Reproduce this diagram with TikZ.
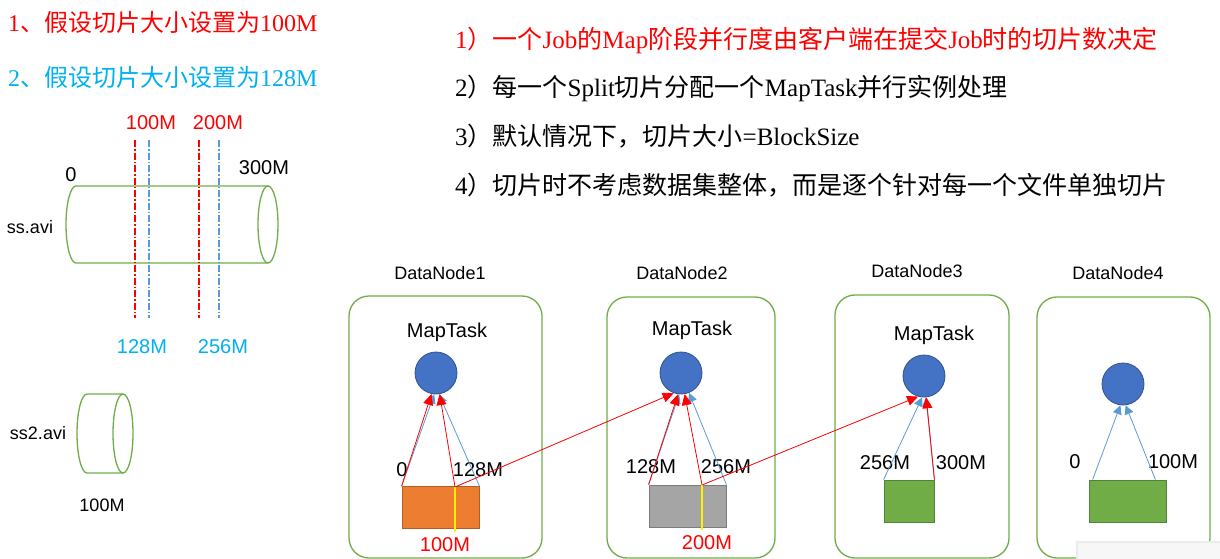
\documentclass[tikz,border=0pt]{standalone}
\usepackage{fontspec}
\setmainfont{Liberation Serif}
\setsansfont{Liberation Sans}
\newfontfamily\cjk{Noto Sans CJK SC}
\usetikzlibrary{arrows.meta}
\definecolor{hred}{HTML}{FF0000}
\definecolor{hcyan}{HTML}{00B0F0}
\definecolor{hblue}{HTML}{5B9BD5}
\definecolor{dngreen}{HTML}{70AD47}
\definecolor{mtblue}{HTML}{4472C4}
\definecolor{mtedge}{HTML}{2F528F}
\definecolor{blkorange}{HTML}{ED7D31}
\definecolor{blkgray}{HTML}{A5A5A5}
\definecolor{blkgreen}{HTML}{70AD47}
\tikzset{
  dnbox/.style={draw=dngreen, line width=1.3pt, rounded corners=20pt, inner sep=0pt},
  maptask/.style={circle, draw=mtedge, fill=mtblue, minimum size=42pt, inner sep=0pt,
                  line width=0.8pt},
  blk/.style={draw, minimum height=42pt, inner sep=0pt, line width=0.8pt},
  lbl/.style={font=\sffamily\fontsize{20}{22}\selectfont, inner sep=0pt},
  dnlbl/.style={font=\sffamily\fontsize{18}{20}\selectfont, inner sep=0pt},
  ruletext/.style={anchor=west, font=\fontsize{25}{28}\selectfont, inner sep=0pt},
  splitcut/.style={line width=1.1pt, dash pattern=on 7pt off 2pt on 1.5pt off 2pt},
  redarr/.style={draw=hred, line width=0.8pt, -{Triangle[length=11pt,width=10pt]}},
  bluearr/.style={draw=hblue, line width=0.8pt, -{Triangle[length=9pt,width=9pt]}},
  yline/.style={draw=yellow, line width=2pt},
}
\begin{document}
\begin{tikzpicture}[x=1pt, y=-1pt]
\useasboundingbox[fill=white] (0,0) rectangle (1220,559);

% split size cases
\node[ruletext, text=hred, font=\fontsize{24}{26}\selectfont] (case1) at (8,22)
  {1{\cjk 、假设切片大小设置为}100M};
\node[ruletext, text=hcyan, font=\fontsize{24}{26}\selectfont] (case2) at (8,77)
  {2{\cjk 、假设切片大小设置为}128M};

% rules
\node[ruletext, text=hred] (r1) at (455,40)
  {1{\cjk ）一个}Job{\cjk 的}Map{\cjk 阶段并行度由客户端在提交}Job{\cjk 时的切片数决定}};
\node[ruletext] (r2) at (455,88)
  {2{\cjk ）每一个}Split{\cjk 切片分配一个}MapTask{\cjk 并行实例处理}};
\node[ruletext] (r3) at (455,136)
  {3{\cjk ）默认情况下，切片大小}=BlockSize};
\node[ruletext] (r4) at (455,185)
  {4{\cjk ）切片时不考虑数据集整体，而是逐个针对每一个文件单独切片}};

% ss.avi
\draw[dngreen, line width=1.3pt] (268,186) -- (76,186)
  arc[start angle=90, end angle=270, x radius=10pt, y radius=38.5pt] -- (268,263);
\draw[dngreen, line width=1.3pt] (268,224.5) ellipse[x radius=10pt, y radius=38.5pt];
\node[dnlbl] (ss) at (30,227) {ss.avi};
\node[lbl] (s0) at (71,175) {0};
\node[lbl] (s300) at (264,168) {300M};
\draw[splitcut, draw=hred] (135,140) -- (135,318);
\draw[splitcut, draw=hred] (199,140) -- (199,318);
\draw[splitcut, draw=hblue] (149,140) -- (149,318);
\draw[splitcut, draw=hblue] (219,140) -- (219,318);
\node[lbl, text=hred] (c100) at (151,123) {100M};
\node[lbl, text=hred] (c200) at (218,123) {200M};
\node[lbl, text=hcyan] (c128) at (142,347) {128M};
\node[lbl, text=hcyan] (c256) at (223,347) {256M};

% ss2.avi
\draw[dngreen, line width=1.3pt] (123,394) -- (87,394)
  arc[start angle=90, end angle=270, x radius=10pt, y radius=39.5pt] -- (123,473);
\draw[dngreen, line width=1.3pt] (123,433.5) ellipse[x radius=10pt, y radius=39.5pt];
\node[dnlbl] (ss2) at (38,433) {ss2.avi};
\node[lbl, font=\sffamily\fontsize{18}{20}\selectfont] (s2size) at (102,505) {100M};

% datanodes
\node[dnbox, minimum width=193pt, minimum height=262pt] (dn1) at (445.5,427) {};
\node[dnbox, minimum width=168pt, minimum height=261pt] (dn2) at (691,427.5) {};
\node[dnbox, minimum width=174pt, minimum height=263pt] (dn3) at (922,426.5) {};
\node[dnbox, minimum width=173pt, minimum height=261pt] (dn4) at (1123.5,427.5) {};
\node[dnlbl] (dl1) at (440,273) {DataNode1};
\node[dnlbl] (dl2) at (682,273) {DataNode2};
\node[dnlbl] (dl3) at (917,271) {DataNode3};
\node[dnlbl] (dl4) at (1118,273) {DataNode4};

% map tasks
\node[lbl] (ml1) at (447,332) {MapTask};
\node[lbl] (ml2) at (692,330) {MapTask};
\node[lbl] (ml3) at (934,335) {MapTask};
\node[maptask] (mt1) at (436,373) {};
\node[maptask] (mt2) at (681,373) {};
\node[maptask] (mt3) at (924,376) {};
\node[maptask] (mt4) at (1123,384) {};

% blocks
\node[blk, fill=blkorange, draw=blkorange!75!black, minimum width=77pt] (blk1) at (440.5,507.5) {};
\node[blk, fill=blkgray, draw=blkgray!75!black, minimum width=77pt] (blk2) at (687.5,506) {};
\node[blk, fill=blkgreen, draw=blkgreen!75!black, minimum width=50pt] (blk3) at (909,501) {};
\node[blk, fill=blkgreen, draw=blkgreen!75!black, minimum width=77pt] (blk4) at (1127.5,501) {};
\coordinate (sp1) at (455,487);
\coordinate (sp2) at (702,485);

\node[lbl] (b10) at (402,470) {0};
\node[lbl] (b1e) at (478,470) {128M};
\node[lbl] (b2s) at (651,467) {128M};
\node[lbl] (b2e) at (726,467) {256M};
\node[lbl] (b3s) at (885,463) {256M};
\node[lbl] (b3e) at (961,463) {300M};
\node[lbl] (b40) at (1075,462) {0};
\node[lbl] (b4e) at (1173,462) {100M};
\node[lbl, text=hred] (y1) at (445,545) {100M};
\node[lbl, text=hred] (y2) at (707,543) {200M};

% 128M splits
\draw[bluearr] (blk1.north west) -- (mt1.-95);
\draw[bluearr] (blk1.north east) -- (mt1.-82);
\draw[bluearr] (blk2.north west) -- (mt2.-95);
\draw[bluearr] (blk2.north east) -- (mt2.-68);
\draw[bluearr] (blk3.north west) -- (mt3.-95);
\draw[bluearr] (blk3.north east) -- (mt3.-85);
\draw[bluearr] ([xshift=4pt]blk4.north west) -- (mt4.-97);
\draw[bluearr] ([xshift=-11pt]blk4.north east) -- (mt4.-83);

% 100M splits
\draw[redarr] (blk1.north west) -- (mt1.-102);
\draw[redarr] (sp1) -- (mt1.-80);
\draw[redarr] (sp1) -- (mt2.-110);
\draw[redarr] (blk2.north west) -- (mt2.-98);
\draw[redarr] (sp2) -- (mt2.-80);
\draw[redarr] (sp2) -- (mt3.-106);
\draw[redarr] (blk3.north east) -- (mt3.-84);
\draw[yline] (sp1) -- ++(0,45);
\draw[yline] (sp2) -- ++(0,45);

% overlay
\fill[black!8] (1076,541) rectangle (1220,559);
\fill[black!3] (1078,543) rectangle (1220,559);
\end{tikzpicture}
\end{document}
